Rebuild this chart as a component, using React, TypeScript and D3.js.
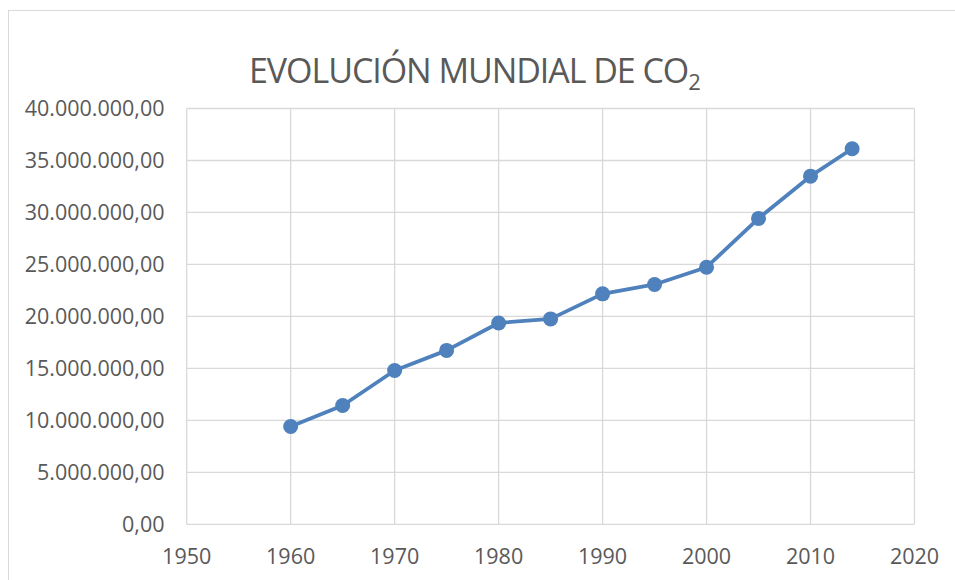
import React from 'react';
import * as d3 from 'd3';

// CO2 emissions by year
const years = [1960, 1965, 1970, 1975, 1980, 1985, 1990, 1995, 2000, 2005, 2010, 2014];
const emissions = [
  9410000, 11430000, 14800000, 16730000, 19370000, 19760000,
  22170000, 23070000, 24730000, 29430000, 33490000, 36130000,
];
const xTicks = [1950, 1960, 1970, 1980, 1990, 2000, 2010, 2020];
const yTicks = [0, 5000000, 10000000, 15000000, 20000000, 25000000, 30000000, 35000000, 40000000];

const width = 955;
const height = 580;
const plot = { left: 186.7, right: 914.5, top: 108.5, bottom: 524.3 };
const blue = '#4F81BD';
const grid = '#D9D9D9';
const textColor = '#595959';
const font = "'Open Sans', sans-serif";

// es-ES style: 40.000.000,00
const fmt = (v: number) => {
  const [int, dec] = v.toFixed(2).split('.');
  return int.replace(/\B(?=(\d{3})+(?!\d))/g, '.') + ',' + dec;
};

export default function App() {
  const x = d3.scaleLinear().domain([1950, 2020]).range([plot.left, plot.right]);
  const y = d3.scaleLinear().domain([0, 40000000]).range([plot.bottom, plot.top]);

  const pts = years.map((yr, i) => [x(yr), y(emissions[i])] as [number, number]);
  const line = d3.line()(pts) || '';

  return (
    <svg
      width={width}
      height={height}
      style={{ position: 'absolute', left: 0, top: 0, background: '#fff' }}
      fontFamily={font}
    >
      {/* chart area outline */}
      <rect x={8.5} y={10.5} width={width} height={height} fill="none" stroke={grid} strokeWidth={1} />

      <text x={249} y={83} fontSize={34} letterSpacing={-1.05} fill={textColor}>
        EVOLUCIÓN MUNDIAL DE CO
        <tspan fontSize={22} dy={7} letterSpacing={0}>2</tspan>
      </text>

      {/* gridlines */}
      {yTicks.map(t => (
        <line key={'gy' + t} x1={plot.left} x2={plot.right} y1={y(t)} y2={y(t)} stroke={grid} strokeWidth={1.3} />
      ))}
      {xTicks.map(t => (
        <line key={'gx' + t} x1={x(t)} x2={x(t)} y1={plot.top} y2={plot.bottom} stroke={grid} strokeWidth={1.3} />
      ))}

      {/* y labels */}
      {yTicks.map(t => (
        <text key={'ly' + t} x={164.5} y={y(t)} dy="0.36em" textAnchor="end" fontSize={21.5} fill={textColor}>
          {fmt(t)}
        </text>
      ))}
      {/* x labels */}
      {xTicks.map(t => (
        <text key={'lx' + t} x={x(t)} y={563.5} textAnchor="middle" fontSize={21.5} fill={textColor}>
          {t}
        </text>
      ))}

      <path d={line} fill="none" stroke={blue} strokeWidth={3.8} strokeLinejoin="round" />
      {pts.map(([px, py], i) => (
        <circle key={years[i]} cx={px} cy={py} r={7.5} fill={blue} />
      ))}
    </svg>
  );
}
